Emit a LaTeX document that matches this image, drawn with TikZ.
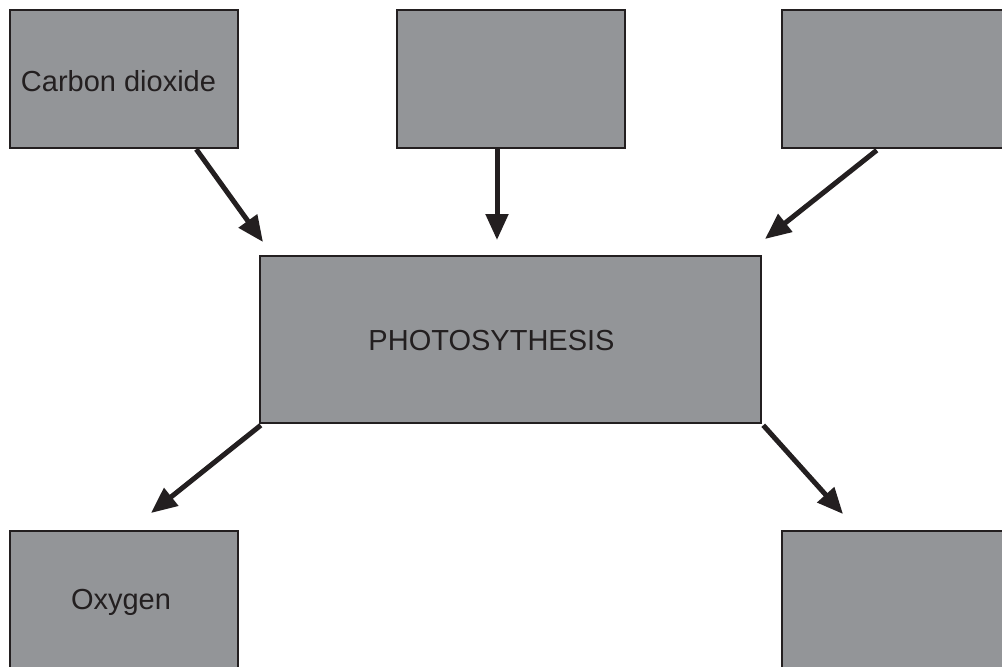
\documentclass[tikz,border=0pt]{standalone}
\usepackage{fontspec}
\setmainfont{Liberation Sans}
\usetikzlibrary{arrows.meta,calc}
\definecolor{boxgray}{HTML}{939598}
\definecolor{ink}{HTML}{231F20}
\tikzset{
  box/.style={draw=ink, line width=2.5pt, fill=boxgray, rectangle, inner sep=0pt,
    minimum width=228pt, minimum height=138pt},
  bigbox/.style={box, minimum width=501pt, minimum height=167pt},
  lbl/.style={text=ink, font=\fontsize{29pt}{34pt}\selectfont, inner sep=0pt},
  arr/.style={draw=ink, line width=5pt, -{Triangle[length=26pt,width=22pt]}}
}
\begin{document}
\begin{tikzpicture}[x=1pt,y=-1pt]
\useasboundingbox (0,0) rectangle (1002,667);
\begin{scope}
\clip (0,0) rectangle (1002,667);
\node[box] (c1) at (124,79) {};
\node[lbl] (t1) at (118.5,81) {Carbon dioxide};
\node[box] (c2) at (511,79) {};
\node[box] (c3) at (896,79) {};
\node[bigbox] (ps) at (510.5,339.5) {};
\node[lbl] (tps) at (491.5,341) {PHOTOSYTHESIS};
\node[box] (o1) at (124,600) {};
\node[lbl] (to1) at (121,602) {Oxygen};
\node[box] (o2) at (896,600) {};
\end{scope}
\coordinate (e1) at (263,242);
\coordinate (e2) at (497,240);
\coordinate (e3) at (765,239);
\coordinate (e4) at (151,513);
\coordinate (e5) at (843,514);
\draw[arr] ([xshift=-43pt]c1.south east) -- (e1);
\draw[arr] ([xshift=-14pt]c2.south) -- (e2);
\draw[arr] ([xshift=96pt,yshift=-1pt]c3.south west) -- (e3);
\draw[arr] ([xshift=2pt,yshift=-1pt]ps.south west) -- (e4);
\draw[arr] ([xshift=1pt,yshift=-1pt]ps.south east) -- (e5);
\end{tikzpicture}
\end{document}
